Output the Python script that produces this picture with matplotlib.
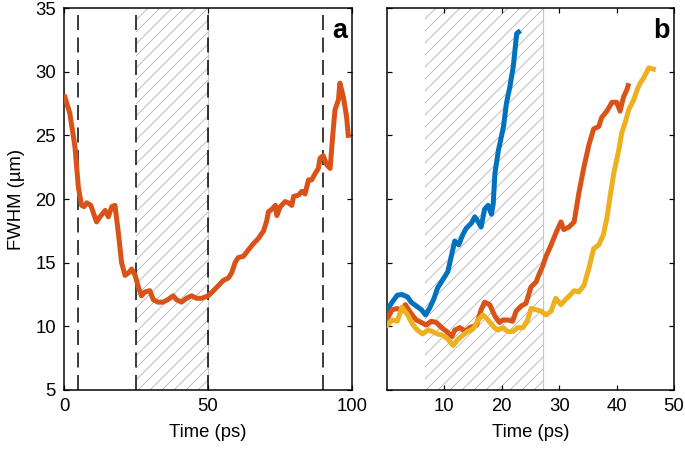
import matplotlib
matplotlib.use("Agg")
import matplotlib.pyplot as plt

plt.rcParams['font.family'] = ['Liberation Sans', 'DejaVu Sans']
plt.rcParams['hatch.color'] = '#a8a8a8'
plt.rcParams['hatch.linewidth'] = 0.7

# panel a: single FWHM trace
ta = [0.3, 2, 3.8, 5, 6.1, 7, 7.9, 9.3, 11.3, 12.5, 14.3, 15.4, 16.6, 17.7, 18.9, 20,
      21.2, 22.4, 23.5, 24.7, 25.8, 26.9, 28.1, 29.8, 31, 32.6, 34.4, 36.1, 37.9, 39,
      40.8, 42.5, 44.3, 46, 47.8, 50.1, 51.9, 53.6, 55.3, 57.1, 58.2, 59.4, 60.5, 62.3,
      64, 65.8, 67.5, 69.3, 70.4, 71, 72.2, 73.4, 73.9, 75.1, 76.8, 77.9, 79.1, 79.7,
      81.4, 82.6, 83.7, 84.9, 86, 87.2, 88.3, 88.9, 90, 91.2, 92.4, 93.5, 94.1, 95.3,
      95.8, 97, 98.1, 98.7]
fa = [28.0, 26.75, 24.1, 20.9, 19.5, 19.4, 19.7, 19.5, 18.2, 18.6, 19.1, 18.6, 19.4, 19.5,
      17.3, 15.0, 14.0, 14.2, 14.5, 14.0, 13.1, 12.4, 12.7, 12.8, 12.1, 11.9, 11.9, 12.1,
      12.4, 12.1, 11.9, 12.2, 12.4, 12.2, 12.2, 12.4, 12.8, 13.2, 13.6, 13.8, 14.2, 15.0,
      15.4, 15.5, 16.0, 16.5, 16.9, 17.5, 18.3, 19.0, 19.2, 19.5, 18.7, 19.4, 19.8, 19.7,
      19.5, 20.2, 20.3, 20.6, 20.4, 21.5, 21.5, 22.0, 22.4, 23.2, 23.4, 22.7, 22.4, 25.5,
      27.0, 27.8, 29.1, 28.0, 26.5, 25.0]
vlines_a = [5, 25, 50, 90]
shade_a = (25, 50)

# panel b: three traces
tb_blue = [0.05, 0.9, 1.8, 2.6, 3.6, 4.2, 5.1, 6, 6.7, 7.4, 8.2, 8.8, 9.7, 10.6, 11.2,
           11.8, 12.5, 13.2, 13.8, 14.7, 15.3, 15.9, 16.4, 17, 17.6, 18.2, 18.5, 18.8,
           19.4, 20.3, 20.8, 21.4, 22, 22.6, 22.9]
fb_blue = [11.3, 11.9, 12.45, 12.5, 12.3, 11.9, 11.6, 11.3, 10.9, 11.4, 12.2, 13.0, 13.65,
           14.3, 15.5, 16.7, 16.4, 17.2, 17.7, 18.1, 18.6, 18.2, 17.8, 19.2, 19.5, 18.8,
           19.6, 22.0, 23.8, 25.7, 27.5, 28.8, 30.4, 33.0, 33.1]
tb_red = [0.05, 0.9, 1.8, 2.6, 3.2, 4.2, 5.1, 6, 6.8, 7.7, 8.6, 9.5, 10.4, 11.3, 11.8,
          12.7, 13.6, 14.4, 15.6, 16.4, 17, 17.9, 18.8, 19.6, 20.2, 21, 21.9, 22.5, 23.4,
          24.2, 25.1, 26, 26.5, 27.1, 27.7, 28.5, 29.4, 30.3, 30.8, 31.7, 32.6, 33.4,
          34.3, 35.2, 36, 36.9, 37.4, 38.3, 39.2, 40, 40.6, 41.2, 41.8, 42]
fb_red = [10.6, 11.3, 11.4, 11.2, 11.7, 11.0, 10.5, 10.3, 10.1, 10.4, 10.3, 9.9, 9.6, 9.2,
          9.7, 9.9, 9.6, 9.9, 10.1, 11.3, 11.9, 11.7, 10.8, 10.3, 10.5, 10.5, 10.4, 11.2,
          11.6, 11.8, 13.1, 13.5, 14.1, 14.7, 15.5, 16.3, 17.3, 18.2, 17.6, 17.8, 18.2,
          20.4, 22.5, 24.3, 25.5, 25.7, 26.4, 26.9, 27.6, 27.6, 26.9, 28.0, 28.6, 28.9]
tb_yel = [0.05, 0.9, 1.8, 2.6, 3.6, 4.4, 5.3, 6.2, 7.1, 7.9, 8.8, 9.7, 10.6, 11.5, 12.4,
          13.2, 14.1, 15, 15.9, 16.7, 17.6, 18.5, 19.3, 20.2, 21, 21.9, 22.8, 23.7, 24.5,
          25.1, 26, 26.8, 27.7, 28.6, 29.4, 30.3, 31.1, 32, 32.6, 33.4, 34.3, 35.2, 36,
          36.9, 37.7, 38.3, 38.9, 39.5, 40.4, 40.9, 41.5, 42.1, 43, 43.6, 44.1, 44.7,
          45.6, 46.4]
fb_yel = [10.1, 10.5, 10.4, 11.5, 10.9, 10.2, 9.7, 9.4, 9.7, 9.6, 9.4, 9.3, 9.0, 8.5, 9.0,
          9.3, 9.6, 9.8, 10.5, 10.9, 10.5, 10.0, 9.7, 9.9, 9.6, 9.6, 9.9, 9.9, 10.5, 11.4,
          11.3, 11.2, 10.9, 11.2, 12.2, 11.7, 12.1, 12.5, 12.8, 12.7, 13.2, 14.6, 16.1,
          16.4, 17.2, 18.5, 20.3, 22.0, 23.9, 25.2, 26.0, 27.0, 27.8, 28.6, 29.1, 29.5,
          30.3, 30.2]
shade_b = (6.7, 27.1)

blue = '#0072BD'
orange = '#D95319'
yellow = '#EDB120'

fig = plt.figure(figsize=(685 / 72, 449 / 72), dpi=72)
ax1 = fig.add_axes([64 / 685, 1 - 390 / 449, 288 / 685, 382 / 449])
ax2 = fig.add_axes([387 / 685, 1 - 390 / 449, 287 / 685, 382 / 449])

# hatched regions
ax1.axvspan(shade_a[0], shade_a[1], facecolor='none', edgecolor='#a8a8a8', hatch='//', lw=0, zorder=1)
ax1.axvline(shade_a[1], color='#c8c8c8', lw=1.2, zorder=1)
for v in vlines_a:
    ax1.axvline(v, color='black', lw=1.5, ls=(0, (10, 5)), zorder=2)
ax1.plot(ta, fa, color=orange, lw=5, zorder=3, solid_joinstyle='round')

ax2.axvspan(shade_b[0], shade_b[1], facecolor='none', edgecolor='#a8a8a8', hatch='//', lw=0, zorder=1)
ax2.axvline(shade_b[1], color='#c8c8c8', lw=1.2, zorder=1)
ax2.plot(tb_blue, fb_blue, color=blue, lw=5, zorder=3, solid_joinstyle='round')
ax2.plot(tb_red, fb_red, color=orange, lw=5, zorder=3, solid_joinstyle='round')
ax2.plot(tb_yel, fb_yel, color=yellow, lw=5, zorder=4, solid_joinstyle='round')

for ax in (ax1, ax2):
    ax.set_ylim(5, 35)
    ax.set_yticks([5, 10, 15, 20, 25, 30, 35])
    ax.tick_params(direction='in', length=5, width=1.2, top=True, right=True,
                   labelsize=18.5, pad=8)
    for s in ax.spines.values():
        s.set_linewidth(1.5)
    ax.set_xlabel('Time (ps)', fontsize=18.5, labelpad=9)

ax1.set_xlim(0, 100)
ax1.set_xticks([0, 50, 100])
ax1.set_ylabel('FWHM (\u00b5m)', fontsize=18.5, labelpad=10)
ax2.set_xlim(0, 50)
ax2.set_xticks([10, 20, 30, 40, 50])
ax2.set_yticklabels([])

ax1.text(0.985, 0.975, 'a', transform=ax1.transAxes, ha='right', va='top',
         fontsize=27, fontweight='bold')
ax2.text(0.985, 0.975, 'b', transform=ax2.transAxes, ha='right', va='top',
         fontsize=27, fontweight='bold')

fig.savefig('out.png', dpi=72)
